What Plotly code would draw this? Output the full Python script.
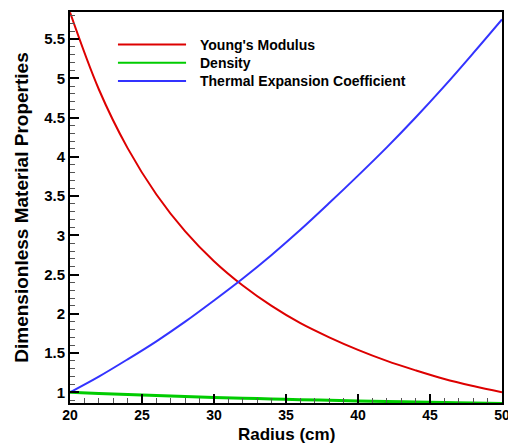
import plotly.graph_objects as go

radius = [20, 22, 24, 26, 28, 30, 32, 34, 36, 38, 40, 42, 44, 46, 48, 50]
youngs = [5.84, 4.86, 4.11, 3.52, 3.05, 2.67, 2.36, 2.10, 1.88, 1.70, 1.54, 1.40, 1.28, 1.17, 1.08, 1.00]
density = [1.000, 0.985, 0.971, 0.958, 0.946, 0.935, 0.925, 0.916, 0.906, 0.898, 0.890, 0.883, 0.877, 0.871, 0.865, 0.858]
thermal = [1.00, 1.20, 1.42, 1.65, 1.90, 2.17, 2.45, 2.75, 3.07, 3.41, 3.76, 4.12, 4.50, 4.90, 5.32, 5.75]

names = ["Young's Modulus", "Density", "Thermal Expansion Coefficient"]
colors = ["#dd0000", "#00cc00", "#3333ff"]
widths = [2, 3, 2]
series = [youngs, density, thermal]

xticks = [20, 25, 30, 35, 40, 45, 50]
yticks = [1, 1.5, 2, 2.5, 3, 3.5, 4, 4.5, 5, 5.5]
yticklabels = ["1", "1.5", "2", "2.5", "3", "3.5", "4", "4.5", "5", "5.5"]

FONT = "Liberation Sans"

fig = go.Figure()
# draw green first so others sit on top
for i in [1, 0, 2]:
    fig.add_trace(go.Scatter(x=radius, y=series[i], mode="lines", name=names[i],
                             line=dict(color=colors[i], width=widths[i], shape="spline"),
                             showlegend=False))

# manual legend
leg_x0, leg_x1, leg_tx = 23.33, 28.06, 28.9
leg_y = [5.43, 5.198, 4.965]
for i in range(3):
    fig.add_shape(type="line", xref="x", yref="y", x0=leg_x0, x1=leg_x1, y0=leg_y[i], y1=leg_y[i],
                  line=dict(color=colors[i], width=2))
    fig.add_annotation(x=leg_tx, y=leg_y[i], xref="x", yref="y", text=names[i], showarrow=False,
                       xanchor="left", yanchor="middle",
                       font=dict(family=FONT, size=14, color="black", weight="bold"))

# x-axis title as annotation below tick labels
fig.add_annotation(x=0.5, y=0, xref="paper", yref="paper", yshift=-31, text="Radius (cm)",
                   showarrow=False, xanchor="center", yanchor="middle",
                   font=dict(family=FONT, size=17, color="black", weight="bold"))

axis_common = dict(showline=True, linecolor="black", linewidth=2, mirror=True,
                   ticks="inside", tickcolor="black", tickwidth=2, ticklen=9,
                   showgrid=False, zeroline=False, ticklabeloverflow="allow", automargin=False,
                   tickfont=dict(family=FONT, size=15, color="black", weight="bold"))

fig.update_xaxes(range=[20, 50], tickvals=xticks, ticktext=[str(v) for v in xticks],
                 minor=dict(ticks="inside", dtick=1, ticklen=5, tickcolor="#555", tickwidth=1, showgrid=False),
                 **axis_common)
fig.update_xaxes(tickfont=dict(size=14), ticklabelstandoff=-2)
fig.update_yaxes(range=[0.864, 5.844], tickvals=yticks, ticktext=yticklabels,
                 minor=dict(ticks="inside", dtick=0.1, tick0=0, ticklen=5, tickcolor="#555", tickwidth=1, showgrid=False),
                 title=dict(text="Dimensionless Material Properties",
                            font=dict(family=FONT, size=19, color="black", weight="bold"), standoff=10),
                 **axis_common)

fig.update_layout(width=508, height=443, margin=dict(l=70, r=6, t=12, b=40),
                  plot_bgcolor="white", paper_bgcolor="white", showlegend=False)

fig.write_html("out.html")
